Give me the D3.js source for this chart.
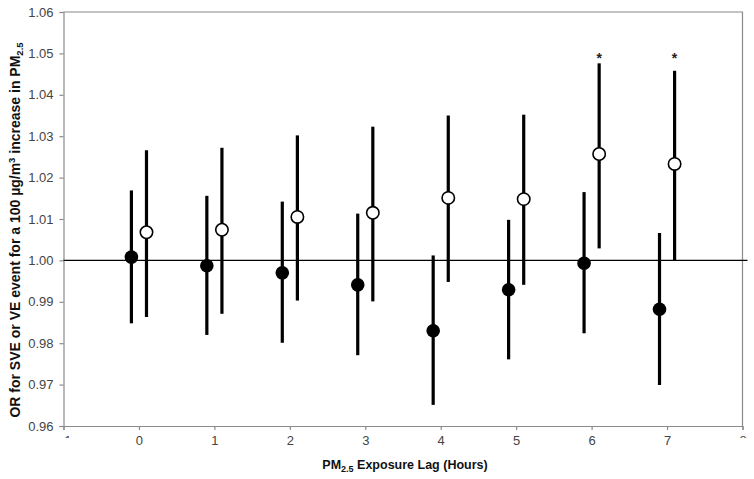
<!DOCTYPE html>
<html>
<head>
<meta charset="utf-8">
<script src="https://cdn.jsdelivr.net/npm/d3@7"></script>
<style>
  html, body { margin: 0; padding: 0; background: #fff; }
  svg { display: block; font-family: "Liberation Sans", Arial, sans-serif; }
</style>
</head>
<body>
<svg id="chart" width="754" height="479"></svg>
<script>
// ---- Data ----
const lags = [0, 1, 2, 3, 4, 5, 6, 7];
const filledOR   = [1.0008, 0.9987, 0.9970, 0.9941, 0.9830, 0.9929, 0.9993, 0.9882];
const filledLow  = [0.9848, 0.9820, 0.9801, 0.9771, 0.9651, 0.9761, 0.9824, 0.9699];
const filledHigh = [1.0169, 1.0156, 1.0142, 1.0113, 1.0012, 1.0098, 1.0165, 1.0066];
const openOR     = [1.0068, 1.0074, 1.0105, 1.0115, 1.0151, 1.0148, 1.0257, 1.0233];
const openLow    = [0.9863, 0.9871, 0.9903, 0.9901, 0.9948, 0.9941, 1.0029, 1.0001];
const openHigh   = [1.0266, 1.0272, 1.0302, 1.0323, 1.0350, 1.0352, 1.0476, 1.0458];
const openSignificant = [false, false, false, false, false, false, true, true];
const xTicks = [-1, 0, 1, 2, 3, 4, 5, 6, 7, 8];
const yTicks = [0.96, 0.97, 0.98, 0.99, 1.00, 1.01, 1.02, 1.03, 1.04, 1.05, 1.06];
const seriesOffset = 0.1;
const asteriskLevel = 1.0477;

(function () {
const svg = d3.select("#chart");
const mLeft = 63.5, mRight = 742.5, mTop = 12, mBottom = 426;

const x = d3.scaleLinear().domain([-1, 8]).range([mLeft, mRight]);
const y = d3.scaleLinear().domain([0.96, 1.06]).range([mBottom, mTop]);

const axisColor = "#8a8a8a";
const labelColor = "#444";

// Plot border (top/right)
svg.append("path")
  .attr("d", `M${mLeft},${mTop}H${mRight}V${mBottom}`)
  .attr("fill", "none").attr("stroke", axisColor).attr("stroke-width", 1.2);

// Y axis
const yAxis = svg.append("g").attr("transform", `translate(${mLeft},0)`)
  .call(d3.axisLeft(y).tickValues(yTicks).tickFormat(d3.format(".2f")).tickSize(4).tickPadding(6));
yAxis.select(".domain").attr("stroke", axisColor).attr("stroke-width", 1.2);
yAxis.selectAll(".tick line").attr("stroke", axisColor).attr("stroke-width", 1.2);
yAxis.selectAll(".tick text").attr("fill", labelColor).style("font-size", "13px")
  .style("font-family", "'Liberation Sans', Arial, sans-serif");

// X axis
const clip = svg.append("defs").append("clipPath").attr("id", "edgeclip");
clip.append("rect").attr("x", -20).attr("y", 9).attr("width", 40).attr("height", 3);

const xAxis = svg.append("g").attr("transform", `translate(0,${mBottom})`)
  .call(d3.axisBottom(x).tickValues(xTicks).tickFormat(d3.format("d")).tickSize(4).tickPadding(6));
xAxis.select(".domain").attr("stroke", axisColor).attr("stroke-width", 1.2);
xAxis.selectAll(".tick line").attr("stroke", axisColor).attr("stroke-width", 1.2);
xAxis.selectAll(".tick text").attr("fill", labelColor).style("font-size", "13px")
  .style("font-family", "'Liberation Sans', Arial, sans-serif");
// edge labels (-1 and 8) appear clipped in the reference
xAxis.selectAll(".tick").filter(d => d === -1 || d === 8).select("text")
  .attr("clip-path", "url(#edgeclip)");

// Reference line at 1.00
svg.append("line")
  .attr("x1", mLeft).attr("x2", mRight + 5)
  .attr("y1", y(1)).attr("y2", y(1))
  .attr("stroke", "#000").attr("stroke-width", 1.3);

// Error bars
const g = svg.append("g");
g.selectAll("line.fbar").data(lags).join("line").attr("class", "fbar")
  .attr("x1", (d) => x(d - seriesOffset)).attr("x2", (d) => x(d - seriesOffset))
  .attr("y1", (d, i) => y(filledLow[i])).attr("y2", (d, i) => y(filledHigh[i]))
  .attr("stroke", "#000").attr("stroke-width", 3.2);
g.selectAll("line.obar").data(lags).join("line").attr("class", "obar")
  .attr("x1", (d) => x(d + seriesOffset)).attr("x2", (d) => x(d + seriesOffset))
  .attr("y1", (d, i) => y(openLow[i])).attr("y2", (d, i) => y(openHigh[i]))
  .attr("stroke", "#000").attr("stroke-width", 3.2);

// Markers
g.selectAll("circle.f").data(lags).join("circle").attr("class", "f")
  .attr("cx", (d) => x(d - seriesOffset)).attr("cy", (d, i) => y(filledOR[i]))
  .attr("r", 6.8).attr("fill", "#000");
g.selectAll("circle.o").data(lags).join("circle").attr("class", "o")
  .attr("cx", (d) => x(d + seriesOffset)).attr("cy", (d, i) => y(openOR[i]))
  .attr("r", 6.2).attr("fill", "#fff").attr("stroke", "#000").attr("stroke-width", 1.6);

// Significance asterisks
g.selectAll("text.star").data(lags.filter((d, i) => openSignificant[i])).join("text")
  .attr("class", "star")
  .attr("x", (d) => x(d + seriesOffset))
  .attr("y", y(asteriskLevel))
  .attr("text-anchor", "middle")
  .style("font-size", "14px").style("font-weight", "bold").attr("fill", "#222")
  .text("*");

// Axis titles
const xt = svg.append("text")
  .attr("x", (mLeft + mRight) / 2 + 2).attr("y", 469)
  .attr("text-anchor", "middle")
  .style("font-size", "12.5px").style("font-weight", "bold").attr("fill", "#111");
xt.append("tspan").text("PM");
xt.append("tspan").text("2.5").style("font-size", "9px").attr("dy", 3);
xt.append("tspan").text(" Exposure Lag (Hours)").attr("dy", -3);

const yt = svg.append("text")
  .attr("transform", `translate(20,230) rotate(-90)`)
  .attr("text-anchor", "middle")
  .style("font-size", "14px").style("font-weight", "bold").attr("fill", "#111");
yt.append("tspan").text("OR for SVE or VE event for a 100 µg/m");
yt.append("tspan").text("3").style("font-size", "9.5px").attr("dy", -5);
yt.append("tspan").text(" increase in PM").attr("dy", 5);
yt.append("tspan").text("2.5").style("font-size", "9.5px").attr("dy", 3);
})();
</script>
</body>
</html>
